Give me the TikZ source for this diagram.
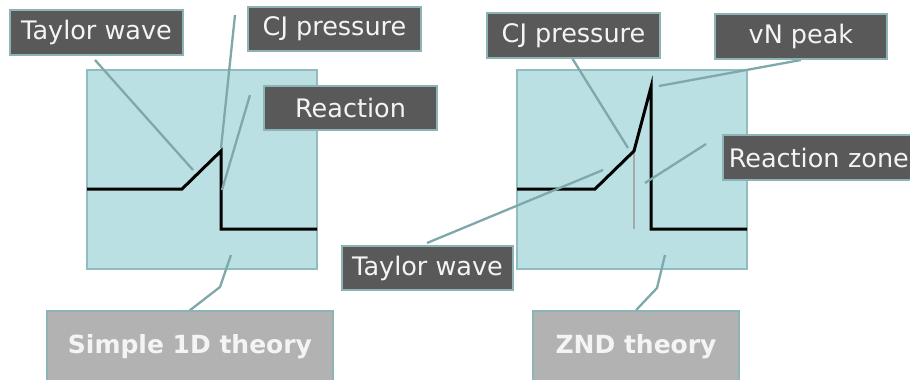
\documentclass[tikz,border=0pt]{standalone}
\usepackage{fontspec}
\setmainfont{DejaVu Sans}
\pgfdeclarelayer{under}
\pgfsetlayers{under,main}
\begin{document}
\begin{tikzpicture}[x=1pt,y=-1pt,
  panel/.style={draw=paneledge,line width=1.6pt,fill=panelfill},
  tag/.style={draw=tagedge,line width=1.6pt,fill=tagfill,text=tagtext,
    rectangle,inner sep=0pt,font=\fontsize{25.5}{30}\selectfont},
  theory/.style={draw=tagedge,line width=1.6pt,fill=theoryfill,text=tagtext,
    rectangle,inner sep=0pt,font=\fontsize{25}{30}\selectfont\bfseries},
  leader/.style={draw=leadcol,line width=2.3pt},
  pulse/.style={draw=black,line width=3pt,line join=miter},
  cjmark/.style={draw=cjgray,line width=2.2pt}]
\definecolor{panelfill}{HTML}{BBE0E3}
\definecolor{paneledge}{HTML}{93BCBF}
\definecolor{tagfill}{HTML}{595959}
\definecolor{tagedge}{HTML}{8DB3B6}
\definecolor{tagtext}{HTML}{F4F4F4}
\definecolor{theoryfill}{HTML}{B2B2B2}
\definecolor{leadcol}{HTML}{7EA8AB}
\definecolor{cjgray}{HTML}{A8A8A8}

\useasboundingbox (0,0) rectangle (910,380);
\clip (0,0) rectangle (910,380);

% labels
\node[tag,minimum width=173,minimum height=45] (tw1) at (96.5,32.5) {Taylor wave};
\node[tag,minimum width=173,minimum height=44] (cj1) at (334.5,29) {CJ pressure};
\node[tag,minimum width=173,minimum height=44] (re1) at (350.5,108) {Reaction};
\node[tag,minimum width=173,minimum height=45] (cj2) at (573.5,35.5) {CJ pressure};
\node[tag,minimum width=172,minimum height=45] (vn) at (801,36.5) {vN peak};
\node[tag,minimum width=200,minimum height=45,anchor=west,
      text width=188,align=left] (rz) at (722,157.5) {Reaction zone};
\node[tag,minimum width=171,minimum height=44] (tw2) at (427.5,268) {Taylor wave};
\node[theory,minimum width=286,minimum height=72] (s1) at (190,347) {Simple 1D theory};
\node[theory,minimum width=206,minimum height=72] (znd) at (636,347) {ZND theory};

\begin{pgfonlayer}{under}
\fill[white] (0,0) rectangle (910,380);
% pressure panels
\path[panel] (87,70) rectangle (317,269);
\path[panel] (517,70) rectangle (747,269);

% simple 1D profile
\coordinate (a0) at (87,189);
\coordinate (a1) at (182,189);
\coordinate (a2) at (221,151);
\coordinate (a3) at (221,229);
\coordinate (a4) at (317,229);
\draw[pulse] (a0) -- (a1) -- (a2) -- (a3) -- (a4);

% ZND profile
\coordinate (b0) at (517,189);
\coordinate (b1) at (595,189);
\coordinate (b2) at (634,151);
\coordinate (b3) at (651,87);
\coordinate (b4) at (651,229);
\coordinate (b5) at (747,229);
\coordinate (b6) at (634,229);
\draw[cjmark] (b2) -- (b6);
\draw[pulse] (b0) -- (b1) -- (b2) -- (b3) -- (b4) -- (b5);

% leader lines
\coordinate (l1) at (95,60);   \coordinate (p1) at (193,170);
\coordinate (l2) at (235,15);  \coordinate (p2) at (221,148);
\coordinate (l3) at (250,95);  \coordinate (p3) at (222,190);
\coordinate (l4) at (572,58);  \coordinate (p4) at (628,148);
\coordinate (l5) at (801,60);  \coordinate (p5) at (659,86);
\coordinate (l6) at (706,144); \coordinate (p6) at (645,183);
\coordinate (l7) at (427,243); \coordinate (p7) at (603,170);
\coordinate (p8) at (231,255); \coordinate (k8) at (220,287);
\coordinate (p9) at (665,255); \coordinate (k9) at (657,288);
\coordinate (s1top) at (189,311);
\draw[leader] (l1) -- (p1);
\draw[leader] (l2) -- (p2);
\draw[leader] (l3) -- (p3);
\draw[leader] (l4) -- (p4);
\draw[leader] (l5) -- (p5);
\draw[leader] (l6) -- (p6);
\draw[leader] (l7) -- (p7);
\draw[leader] (p8) -- (k8) -- (s1top);
\draw[leader] (p9) -- (k9) -- (znd.north);
\end{pgfonlayer}
\end{tikzpicture}
\end{document}
